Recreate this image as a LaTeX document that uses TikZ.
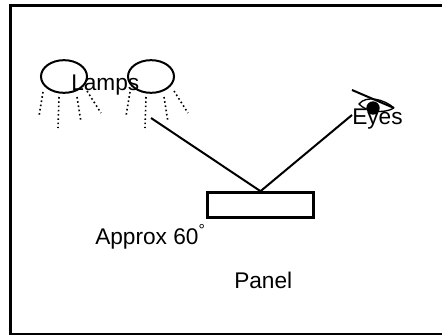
\documentclass[tikz,border=0pt]{standalone}
\usepackage{fontspec}
\setmainfont{Liberation Sans}
\usetikzlibrary{shapes.geometric}
\usetikzlibrary{positioning}
\begin{document}
\begin{tikzpicture}[x=0.75pt,y=-0.75pt,
    lamp node/.style={ellipse,draw,line width=1.5pt,minimum width=34.5pt,minimum height=24.5pt,inner sep=0pt},
    label node/.style={font=\fontsize{17}{20}\selectfont,inner sep=0pt,anchor=base west},
    ray/.style={dotted,line width=1.2pt},
    beam/.style={line width=1.5pt}]
  \useasboundingbox (0,0) rectangle (442,335);
  \draw[line width=2pt] (443,5.3) -- (10.6,5.3) -- (10.6,334) -- (443,334);
  \node[lamp node] (lampa) at (64,76.5) {};
  \node[lamp node] (lampb) at (151,76.5) {};
  \node[label node] (lamps) at (71,90) {Lamps};
  % rays
  \foreach \x in {0,87}{
    \draw[ray] (43+\x,92) -- (39+\x,116);
    \draw[ray] (59+\x,97) -- (58+\x,128);
    \draw[ray] (77+\x,97) -- (81+\x,122);
    \draw[ray] (87+\x,91) -- (101+\x,113);
  }
  \node[draw,line width=2.2pt,minimum width=80pt,minimum height=18.5pt,inner sep=0pt] (panel) at (260.5,205) {};
  \coordinate (hit) at (panel.north);
  \coordinate (lampend) at (151,118);
  \coordinate (eyeend) at (352,115);
  \draw[beam] (lampend) -- (hit);
  \draw[beam] (eyeend) -- (hit);
  \node[label node] (approx) at (95,244) {Approx 60\textsuperscript{\textdegree}};
  \node[label node] (panellabel) at (234,288) {Panel};
  % eye
  \coordinate (lida) at (352,90);
  \coordinate (lidb) at (394,108);
  \draw[line width=1.5pt] (lida) -- (lidb);
  \draw[line width=1pt] (lidb) .. controls (384,99) and (366,95) .. (359,104) .. controls (366,112) and (384,114) .. (lidb);
  \fill (373,108) circle (6.7);
  \node[label node] (eyes) at (352,124) {Eyes};
\end{tikzpicture}
\end{document}
